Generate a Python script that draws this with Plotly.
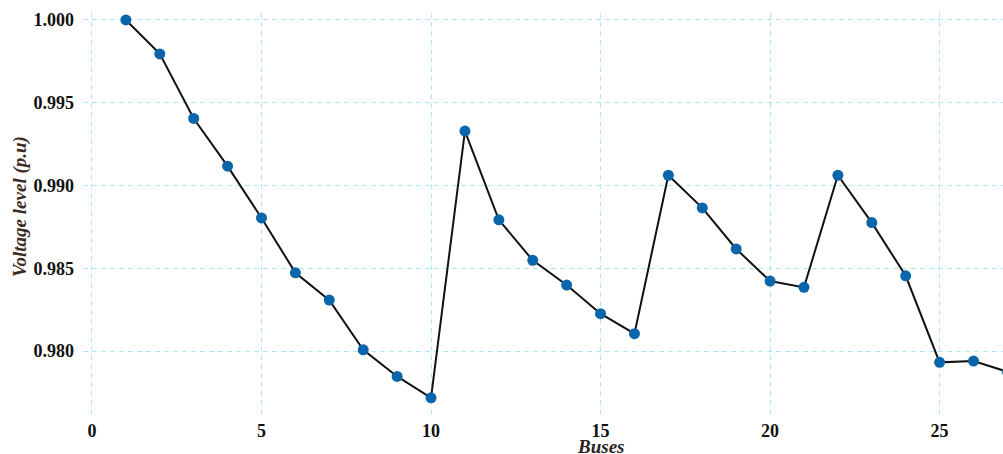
import plotly.graph_objects as go

buses = list(range(1, 28))
voltage = [1.00000, 0.99795, 0.99405, 0.99117, 0.98804, 0.98473, 0.98308, 0.98008,
           0.97847, 0.97718, 0.99329, 0.98793, 0.98548, 0.98399, 0.98226, 0.98105,
           0.99062, 0.98865, 0.98617, 0.98423, 0.98385, 0.99062, 0.98776, 0.98455,
           0.97932, 0.97940, 0.97875]

x_ticks = [0, 5, 10, 15, 20, 25]
y_ticks = [0.980, 0.985, 0.990, 0.995, 1.000]
y_tick_text = ["0.980", "0.985", "0.990", "0.995", "1.000"]

font_family = "Liberation Serif"
W, H = 1003, 454
ML, MR, MT, MB = 83, 0, 13, 36

fig = go.Figure()
fig.add_trace(go.Scatter(
    x=buses, y=voltage, mode="lines+markers",
    line=dict(color="#111111", width=2),
    marker=dict(color="#0a66aa", size=11),
    showlegend=False,
))

grid = dict(showgrid=True, gridcolor="#aeeaf6", griddash="5px,4px", gridwidth=1,
            zeroline=False, showline=False, ticks="", automargin=False)

fig.update_layout(
    width=W, height=H,
    margin=dict(l=ML, r=MR, t=MT, b=MB),
    paper_bgcolor="white", plot_bgcolor="white",
    font=dict(family=font_family, size=18, color="#111111"),
    xaxis=dict(range=[-0.265, 26.87], tickvals=x_ticks,
               ticklabelstandoff=0,
               tickfont=dict(family=font_family, size=18, color="#111111", weight="bold"),
               **grid),
    yaxis=dict(range=[0.97596, 1.00042], tickvals=y_ticks, ticktext=y_tick_text,
               ticklabelstandoff=8,
               tickfont=dict(family=font_family, size=18, color="#111111", weight="bold"),
               **grid),
)

fig.add_annotation(text="<b><i>Buses</i></b>", xref="paper", yref="paper",
                   x=(600 - ML) / (W - ML - MR), y=-(447 - (H - MB)) / (H - MT - MB),
                   xanchor="center", yanchor="middle", showarrow=False,
                   font=dict(family=font_family, size=19, color="#2a2220"))
fig.add_annotation(text="<b><i>Voltage level (p.u)</i></b>", xref="paper", yref="paper",
                   x=-(ML - 20) / (W - ML - MR), y=((H - MB) - 207) / (H - MT - MB),
                   xanchor="center", yanchor="middle", showarrow=False, textangle=-90,
                   font=dict(family=font_family, size=19, color="#3b2b22"))

fig.write_html("out.html", config={"displayModeBar": False},
               post_script="document.body.style.margin='0';document.body.style.overflow='hidden';")
